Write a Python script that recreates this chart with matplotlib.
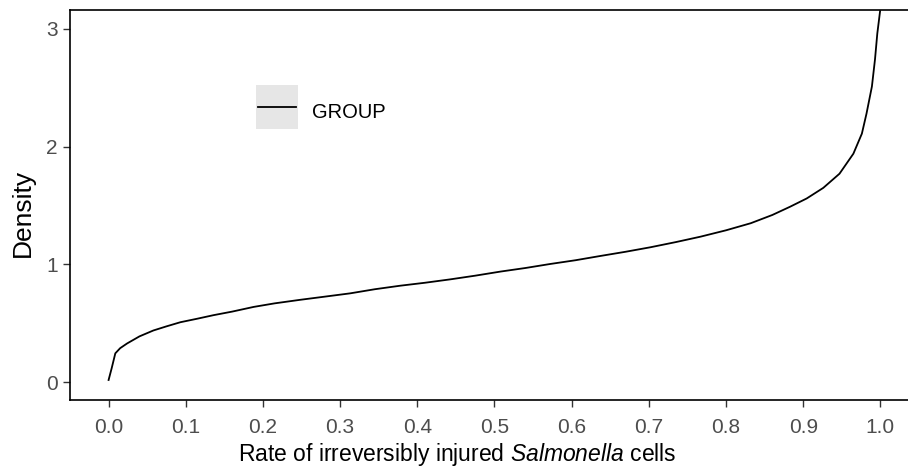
import matplotlib
matplotlib.use("Agg")
import matplotlib.pyplot as plt
from matplotlib.patches import Rectangle
from matplotlib.lines import Line2D
from matplotlib.legend_handler import HandlerBase

# density curve
rate = [0.000, 0.004, 0.0087, 0.015, 0.024, 0.040, 0.058, 0.075, 0.093, 0.115,
        0.136, 0.160, 0.188, 0.215, 0.248, 0.280, 0.313, 0.345, 0.378, 0.410,
        0.443, 0.475, 0.508, 0.540, 0.572, 0.605, 0.637, 0.670, 0.702, 0.735,
        0.767, 0.800, 0.832, 0.860, 0.883, 0.9045, 0.926, 0.947, 0.965, 0.976,
        0.982, 0.989, 0.993, 0.996, 0.9996]
density = [0.02, 0.12, 0.246, 0.29, 0.33, 0.39, 0.44, 0.475, 0.51, 0.54,
           0.57, 0.60, 0.64, 0.67, 0.70, 0.727, 0.755, 0.79, 0.82, 0.845,
           0.874, 0.905, 0.94, 0.97, 1.004, 1.036, 1.072, 1.108, 1.146, 1.19,
           1.236, 1.29, 1.35, 1.42, 1.49, 1.56, 1.65, 1.77, 1.94, 2.11,
           2.28, 2.51, 2.74, 2.96, 3.15]

xticks = [0.0, 0.1, 0.2, 0.3, 0.4, 0.5, 0.6, 0.7, 0.8, 0.9, 1.0]
yticks = [0, 1, 2, 3]

plt.rcParams["font.family"] = ["Liberation Sans", "DejaVu Sans"]
plt.rcParams["mathtext.fontset"] = "custom"
plt.rcParams["mathtext.rm"] = "Liberation Sans"
plt.rcParams["mathtext.it"] = "Liberation Sans:italic"


class KeyHandler(HandlerBase):
    # ggplot-style legend key: grey square with the line across its middle
    def create_artists(self, legend, orig_handle, xdescent, ydescent,
                       width, height, fontsize, trans):
        y0 = -0.5 * fontsize
        rect = Rectangle((-xdescent, y0), width, height, facecolor="#e6e6e6",
                         edgecolor="none", transform=trans)
        ym = y0 + height / 2
        pad = 0.12 * fontsize
        line = Line2D([-xdescent + pad, width - xdescent - pad], [ym, ym],
                      color=orig_handle.get_color(),
                      lw=orig_handle.get_linewidth(), transform=trans)
        return [rect, line]


fig = plt.figure(figsize=(9.08, 4.70), dpi=100)
ax = fig.add_axes([0.0771, 0.1489, 0.935, 0.8298])

curve, = ax.plot(rate, density, color="black", lw=1.3)

ax.set_xlim(-0.05, 1.05)
ax.set_ylim(-0.15, 3.159)
ax.set_xticks(xticks)
ax.set_xticklabels([f"{t:.1f}" for t in xticks])
ax.set_yticks(yticks)
for s in ax.spines.values():
    s.set_linewidth(1.2)
    s.set_color("black")
ax.tick_params(length=5, width=1.0, color="#333333", labelsize=15,
               labelcolor="#4d4d4d")
ax.tick_params(axis="x", pad=8)
ax.tick_params(axis="y", pad=4)

ax.set_xlabel("Rate of irreversibly injured $\\it{Salmonella}$ cells",
              fontsize=16.5)
ax.set_ylabel("Density", fontsize=19)
ax.xaxis.set_label_coords(0.456, -0.104)
ax.yaxis.set_label_coords(-0.041, 0.479)

ax.legend([curve], ["GROUP"], handler_map={curve: KeyHandler()},
          loc="upper left", bbox_to_anchor=(0.219, 0.793),
          frameon=False, fontsize=14.5, handlelength=2.1, handleheight=2.95,
          handletextpad=0.7, borderpad=0, borderaxespad=0)

fig.savefig("out.png", dpi=100)
